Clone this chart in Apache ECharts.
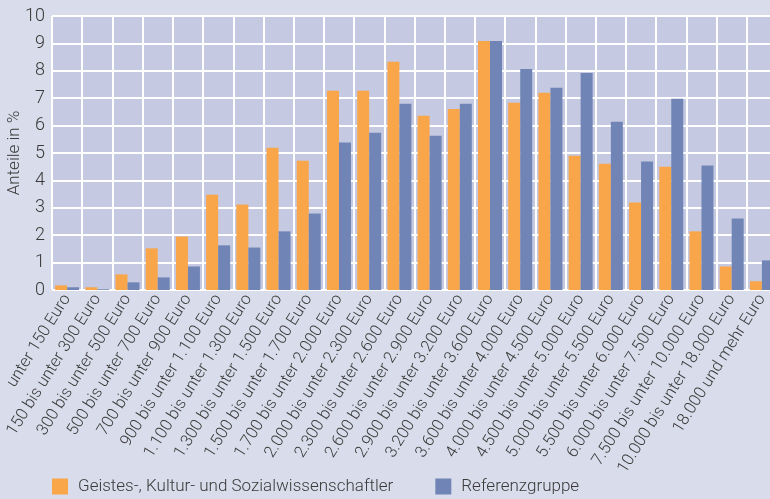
<!DOCTYPE html>
<html>
<head>
<meta charset="utf-8">
<script src="https://cdn.jsdelivr.net/npm/echarts@6/dist/echarts.min.js"></script>
<style>
  html, body { margin: 0; padding: 0; background: #d9dcea; }
  #chart { width: 770px; height: 499px; }
</style>
</head>
<body>
<div id="chart"></div>
<script>
  // Einkommensklassen
  const categories = [
    'unter 150 Euro', '150 bis unter 300 Euro', '300 bis unter 500 Euro',
    '500 bis unter 700 Euro', '700 bis unter 900 Euro', '900 bis unter 1.100 Euro',
    '1.100 bis unter 1.300 Euro', '1.300 bis unter 1.500 Euro', '1.500 bis unter 1.700 Euro',
    '1.700 bis unter 2.000 Euro', '2.000 bis unter 2.300 Euro', '2.300 bis unter 2.600 Euro',
    '2.600 bis unter 2.900 Euro', '2.900 bis unter 3.200 Euro', '3.200 bis unter 3.600 Euro',
    '3.600 bis unter 4.000 Euro', '4.000 bis unter 4.500 Euro', '4.500 bis unter 5.000 Euro',
    '5.000 bis unter 5.500 Euro', '5.500 bis unter 6.000 Euro', '6.000 bis unter 7.500 Euro',
    '7.500 bis unter 10.000 Euro', '10.000 bis unter 18.000 Euro', '18.000 und mehr Euro'
  ]

  const geistesValues = [
    0.17, 0.1, 0.57, 1.52, 1.95, 3.48, 3.12, 5.19, 4.72, 7.27, 7.27, 8.33,
    6.36, 6.61, 9.09, 6.83, 7.2, 4.9, 4.61, 3.19, 4.5, 2.14, 0.86, 0.32
  ]

  const referenzValues = [
    0.1, 0.03, 0.28, 0.46, 0.86, 1.63, 1.55, 2.14, 2.79, 5.38, 5.74, 6.8,
    5.63, 6.8, 9.09, 8.07, 7.38, 7.92, 6.14, 4.69, 6.98, 4.54, 2.61, 1.08
  ]

  const seriesNames = ['Geistes-, Kultur- und Sozialwissenschaftler', 'Referenzgruppe']

  const textColor = '#3a3a3a'
  const fontFamily = 'Roboto, sans-serif'

  const chart = echarts.init(document.getElementById('chart'))

  chart.setOption({
    backgroundColor: '#d9dcea',
    animation: false,
    textStyle: { fontFamily },
    grid: {
      left: 52,
      top: 16,
      width: 725,
      height: 274,
      outerBoundsMode: 'none',
      containLabel: false,
      show: true,
      backgroundColor: '#c5cae2',
      borderWidth: 0
    },
    legend: {
      data: seriesNames,
      left: 52,
      top: 478,
      padding: 0,
      itemWidth: 16,
      itemHeight: 16,
      itemGap: 42,
      icon: 'rect',
      textStyle: {
        fontSize: 17,
        fontWeight: 300,
        color: textColor,
        fontFamily,
        padding: [0, 0, 0, 5]
      }
    },
    xAxis: {
      type: 'category',
      data: categories,
      axisLine: { show: false },
      axisTick: { show: false },
      splitLine: {
        show: true,
        interval: 0,
        lineStyle: { color: '#ffffff', width: 2 }
      },
      axisLabel: {
        interval: 0,
        rotate: 58,
        margin: 6,
        fontSize: 16.5,
        fontWeight: 300,
        color: textColor,
        fontFamily
      }
    },
    yAxis: {
      type: 'value',
      min: 0,
      max: 10,
      interval: 1,
      name: 'Anteile in %',
      nameLocation: 'middle',
      nameRotate: 90,
      nameGap: 29,
      nameMoveOverlap: false,
      nameTextStyle: { fontSize: 17, fontWeight: 300, color: textColor, fontFamily },
      axisLine: { show: false },
      axisTick: { show: false },
      splitLine: { lineStyle: { color: '#ffffff', width: 2 } },
      axisLabel: { fontSize: 18, fontWeight: 300, color: textColor, margin: 7, fontFamily }
    },
    series: [
      {
        name: seriesNames[0],
        type: 'bar',
        data: geistesValues,
        barWidth: 12,
        barGap: '0%',
        itemStyle: { color: '#f9a54a' }
      },
      {
        name: seriesNames[1],
        type: 'bar',
        data: referenzValues,
        barWidth: 12,
        itemStyle: { color: '#7085b5' }
      }
    ]
  })
</script>
</body>
</html>
